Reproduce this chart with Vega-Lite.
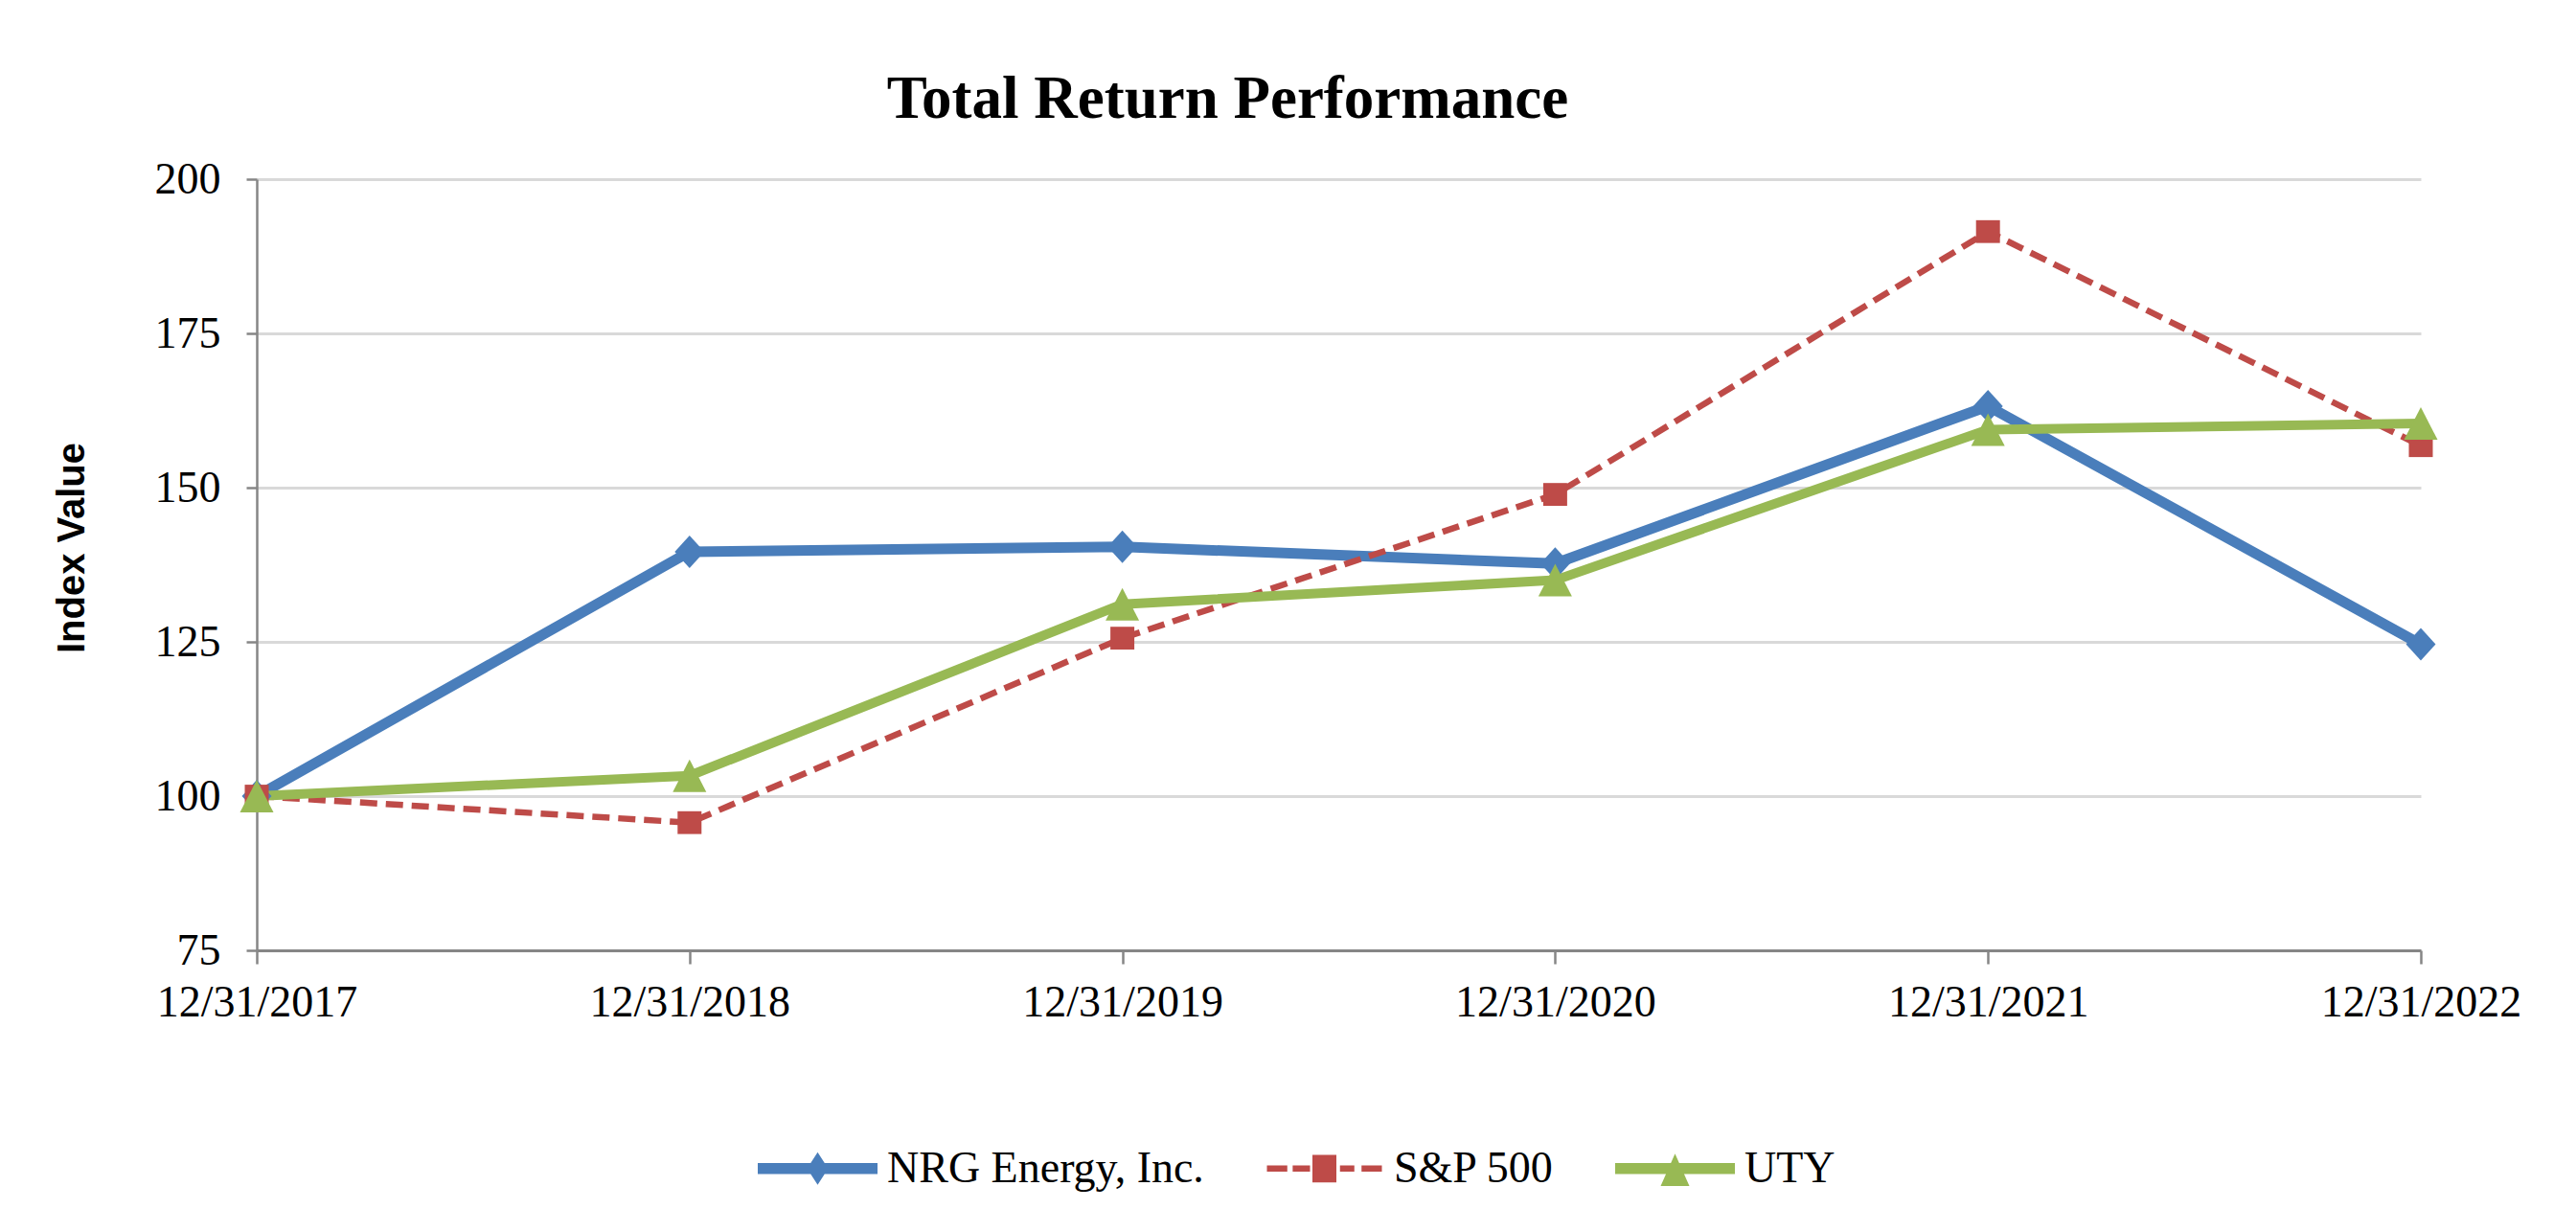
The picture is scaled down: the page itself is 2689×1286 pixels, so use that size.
{
  "$schema": "https://vega.github.io/schema/vega-lite/v6.json",
  "width": 2259,
  "height": 805,
  "autosize": {"type": "none"},
  "padding": {"left": 268, "top": 187, "right": 162, "bottom": 294},
  "background": "white",
  "title": {
    "text": "Total Return Performance",
    "font": "Liberation Serif",
    "fontSize": 63,
    "fontWeight": "bold",
    "color": "black",
    "anchor": "middle",
    "frame": "group",
    "dx": -116,
    "dy": 62,
    "baseline": "alphabetic",
    "offset": 40
  },
  "data": {
    "values": [
      {"date": "12/31/2017", "series": "NRG Energy, Inc.", "value": 100},
      {"date": "12/31/2018", "series": "NRG Energy, Inc.", "value": 139.6},
      {"date": "12/31/2019", "series": "NRG Energy, Inc.", "value": 140.4},
      {"date": "12/31/2020", "series": "NRG Energy, Inc.", "value": 137.7},
      {"date": "12/31/2021", "series": "NRG Energy, Inc.", "value": 163.2},
      {"date": "12/31/2022", "series": "NRG Energy, Inc.", "value": 124.6},
      {"date": "12/31/2017", "series": "S&P 500", "value": 100},
      {"date": "12/31/2018", "series": "S&P 500", "value": 95.7},
      {"date": "12/31/2019", "series": "S&P 500", "value": 125.6},
      {"date": "12/31/2020", "series": "S&P 500", "value": 148.9},
      {"date": "12/31/2021", "series": "S&P 500", "value": 191.5},
      {"date": "12/31/2022", "series": "S&P 500", "value": 156.8},
      {"date": "12/31/2017", "series": "UTY", "value": 100},
      {"date": "12/31/2018", "series": "UTY", "value": 103.3},
      {"date": "12/31/2019", "series": "UTY", "value": 131.1},
      {"date": "12/31/2020", "series": "UTY", "value": 135.0},
      {"date": "12/31/2021", "series": "UTY", "value": 159.4},
      {"date": "12/31/2022", "series": "UTY", "value": 160.4}
    ]
  },
  "encoding": {
    "x": {
      "field": "date",
      "type": "ordinal",
      "sort": null,
      "scale": {"type": "point", "padding": 0},
      "axis": {
        "title": null,
        "labelAngle": 0,
        "labelLimit": 0,
        "grid": false,
        "domainColor": "#868686",
        "domainWidth": 3,
        "tickColor": "#868686",
        "tickWidth": 2.5,
        "tickSize": 14,
        "labelFont": "Liberation Serif",
        "labelFontSize": 46,
        "labelColor": "black",
        "labelPadding": 18
      }
    },
    "y": {
      "field": "value",
      "type": "quantitative",
      "scale": {"domain": [75, 200], "nice": false, "zero": false},
      "axis": {
        "values": [75, 100, 125, 150, 175, 200],
        "grid": true,
        "gridColor": "#D9D9D9",
        "gridWidth": 3,
        "domainColor": "#868686",
        "domainWidth": 2.5,
        "tickColor": "#868686",
        "tickWidth": 2.5,
        "tickSize": 11,
        "labelFont": "Liberation Serif",
        "labelFontSize": 46,
        "labelColor": "black",
        "labelPadding": 27,
        "title": "Index Value",
        "titleFont": "Liberation Sans",
        "titleFontSize": 40,
        "titleFontWeight": "bold",
        "titleColor": "black",
        "titleAngle": -90,
        "titleX": -193,
        "titleY": 384.5,
        "titleAlign": "center",
        "titleBaseline": "middle"
      }
    },
    "color": {
      "field": "series",
      "type": "nominal",
      "sort": null,
      "scale": {
        "domain": ["NRG Energy, Inc.", "S&P 500", "UTY"],
        "range": ["#4A7EBB", "#BE4B48", "#98B954"]
      },
      "legend": {
        "title": null,
        "orient": "none",
        "legendX": 523,
        "legendY": 970,
        "direction": "horizontal",
        "padding": 0,
        "symbolSize": 15625,
        "symbolStrokeWidth": 0,
        "symbolOpacity": 1,
        "labelFont": "Liberation Serif",
        "labelFontSize": 46,
        "labelColor": "black",
        "labelOffset": 10,
        "labelLimit": 0,
        "columnPadding": 63,
        "encode": {
          "symbols": {
            "update": {
              "shape": {"signal": "datum.value === 'NRG Energy, Inc.' ? 'M-1,-0.092L1,-0.092L1,0.092L-1,0.092Z M0,-0.272L0.176,0L0,0.272L-0.176,0Z' : datum.value === 'S&P 500' ? 'M-0.96,-0.052L-0.62,-0.052L-0.62,0.052L-0.96,0.052Z M-0.53,-0.052L-0.24,-0.052L-0.24,0.052L-0.53,0.052Z M-0.2,-0.23L0.2,-0.23L0.2,0.23L-0.2,0.23Z M0.26,-0.052L0.5,-0.052L0.5,0.052L0.26,0.052Z M0.62,-0.052L0.96,-0.052L0.96,0.052L0.62,0.052Z' : 'M-1,-0.092L1,-0.092L1,0.092L-1,0.092Z M0,-0.25L0.24,0.29L-0.24,0.29Z'"},
              "fill": {"signal": "datum.value === 'NRG Energy, Inc.' ? '#4A7EBB' : datum.value === 'S&P 500' ? '#BE4B48' : '#98B954'"},
              "size": {"value": 15625},
              "strokeWidth": {"value": 0},
              "opacity": {"value": 1}
            }
          }
        }
      }
    }
  },
  "layer": [
    {
      "transform": [{"filter": "datum.series === 'NRG Energy, Inc.'"}],
      "mark": {"type": "line", "strokeWidth": 11, "strokeCap": "butt", "strokeJoin": "round"}
    },
    {
      "transform": [{"filter": "datum.series === 'S&P 500'"}],
      "mark": {"type": "line", "strokeWidth": 6.5, "strokeDash": [18, 9], "strokeCap": "butt", "strokeJoin": "round"}
    },
    {
      "transform": [{"filter": "datum.series === 'UTY'"}],
      "mark": {"type": "line", "strokeWidth": 10, "strokeCap": "butt", "strokeJoin": "round"}
    },
    {
      "transform": [{"filter": "datum.series === 'NRG Energy, Inc.'"}],
      "mark": {"type": "point", "filled": true, "opacity": 1, "size": 1156, "shape": "M0,-1L0.91,0L0,1L-0.91,0Z"}
    },
    {
      "transform": [{"filter": "datum.series === 'S&P 500'"}],
      "mark": {"type": "point", "filled": true, "opacity": 1, "size": 1156, "shape": "M-0.735,-0.7L0.735,-0.7L0.735,0.7L-0.735,0.7Z"}
    },
    {
      "transform": [{"filter": "datum.series === 'UTY'"}],
      "mark": {"type": "point", "filled": true, "opacity": 1, "size": 1156, "shape": "M0,-1L1.03,1L-1.03,1Z"}
    }
  ],
  "config": {
    "view": {"stroke": null}
  }
}
